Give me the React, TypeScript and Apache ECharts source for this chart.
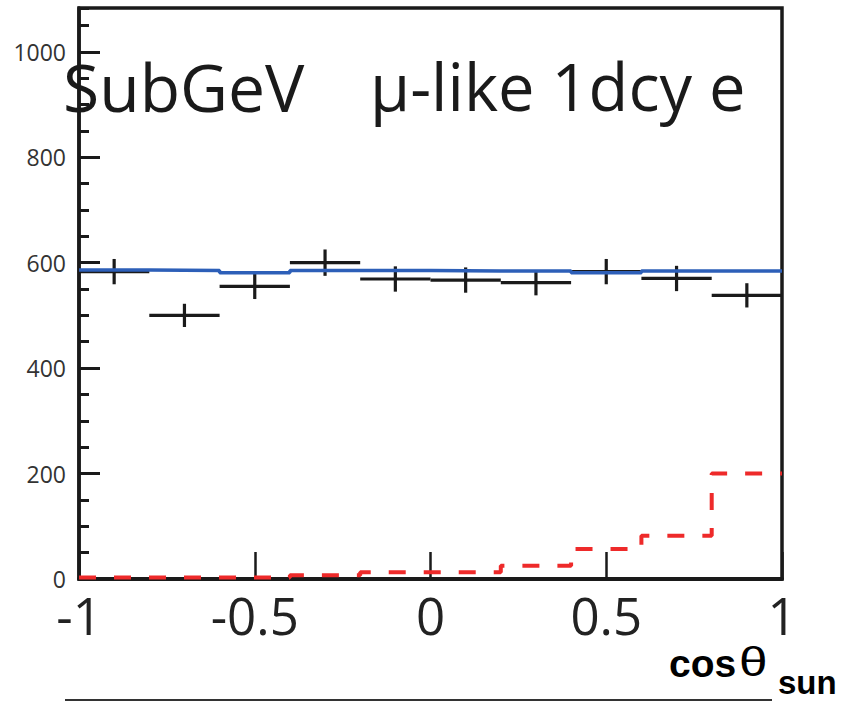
import React, { useEffect, useRef } from "react";
import * as echarts from "echarts";

// ---- data ----
const binCenters = [-0.9, -0.7, -0.5, -0.3, -0.1, 0.1, 0.3, 0.5, 0.7, 0.9];
const binHalfWidth = 0.1;
const dataCounts = [583, 500, 555, 600, 569, 567, 562, 583, 570, 538];
const dataErrors = [24, 22, 24, 25, 24, 24, 24, 24, 24, 23];
const mcExpected = [586, 585, 581, 585, 585, 584, 584, 581, 584, 584];
const solarSignal = [3, 3, 3, 7, 13, 13, 25, 57, 82, 200];
const xTicks = [-1, -0.5, 0, 0.5, 1];
const yMax = 1083;

function stepData(values: number[]) {
  const pts: number[][] = [];
  binCenters.forEach((c, i) => {
    pts.push([c - binHalfWidth, values[i]]);
    pts.push([c + binHalfWidth, values[i]]);
  });
  return pts;
}

export default function App() {
  const ref = useRef<HTMLDivElement>(null);
  useEffect(() => {
    if (!ref.current) return;
    const chart = echarts.init(ref.current, undefined, { renderer: "svg" });
    const ink = "#1a1a1a";
    const option: any = {
      animation: false,
      backgroundColor: "#ffffff",
      grid: {
        left: 79,
        right: 65,
        top: 8,
        bottom: 123,
        show: true,
        borderColor: ink,
        borderWidth: 3.5,
        backgroundColor: "transparent",
      },
      xAxis: {
        type: "value",
        min: xTicks[0],
        max: xTicks[xTicks.length - 1],
        interval: 0.5,
        axisLine: { show: true, onZero: false, lineStyle: { color: ink, width: 4 } },
        axisTick: { show: true, inside: true, length: 27, lineStyle: { color: ink, width: 2.5 } },
        axisLabel: {
          fontSize: 51,
          lineHeight: 40,
          fontFamily: "Open Sans",
          color: "#222",
          margin: 16,
          formatter: (v: number) => String(v),
        },
        splitLine: { show: false },
      },
      yAxis: [
        {
          type: "value",
          min: 0,
          max: yMax,
          interval: 200,
          axisLine: { show: true, onZero: false, lineStyle: { color: ink, width: 3.5 } },
          axisTick: { show: true, inside: true, length: 21, lineStyle: { color: ink, width: 3 } },
          axisLabel: {
            fontSize: 23,
            lineHeight: 20,
            fontFamily: "Open Sans",
            color: "#333",
            margin: 13,
            showMaxLabel: false,
            formatter: (v: number) => String(v),
          },
          splitLine: { show: false },
        },
        {
          type: "value",
          min: 0,
          max: yMax,
          interval: 50,
          position: "left",
          axisLine: { show: false, onZero: false },
          axisTick: { show: true, inside: true, length: 10, lineStyle: { color: ink, width: 3 } },
          axisLabel: { show: false },
          splitLine: { show: false },
        },
      ],
      series: [
        {
          type: "line",
          name: "solar",
          data: stepData(solarSignal),
          symbol: "none",
          lineStyle: { color: "#ee2a2a", width: 4, type: [17, 18] },
          z: 3,
        },
        {
          type: "custom",
          name: "data",
          data: binCenters.map((c, i) => [c, dataCounts[i], dataErrors[i]]),
          renderItem: (params: any, api: any) => {
            const x = api.value(0);
            const y = api.value(1);
            const e = api.value(2);
            const p = api.coord([x, y]);
            const pl = api.coord([x - binHalfWidth, y]);
            const pr = api.coord([x + binHalfWidth, y]);
            const pt = api.coord([x, y + e]);
            const pb = api.coord([x, y - e]);
            const st = { stroke: ink, lineWidth: 3.2 };
            return {
              type: "group",
              children: [
                { type: "line", shape: { x1: pl[0], y1: p[1], x2: pr[0], y2: p[1] }, style: st },
                { type: "line", shape: { x1: p[0], y1: pt[1], x2: p[0], y2: pb[1] }, style: st },
              ],
            };
          },
          z: 4,
        },
        {
          type: "line",
          name: "mc",
          data: stepData(mcExpected),
          symbol: "none",
          lineStyle: { color: "#2d5fb8", width: 3.5 },
          z: 5,
        },
      ],
      graphic: [
        {
          type: "text",
          left: 63,
          top: 53,
          z: 10,
          style: { text: "SubGeV", font: '66px "Open Sans"', fill: ink },
        },
        {
          type: "text",
          left: 370,
          top: 53,
          z: 10,
          style: { text: "μ-like 1dcy e", font: '65px "Open Sans"', fill: ink },
        },
        {
          type: "text",
          left: 669,
          top: 644,
          z: 10,
          style: { text: "cos", font: 'bold 39px "Liberation Sans"', fill: "#000" },
        },
        {
          type: "text",
          left: 739,
          top: 641,
          z: 10,
          scaleX: 1.25,
          style: { text: "θ", font: '41px "Liberation Sans"', fill: "#000" },
        },
        {
          type: "text",
          left: 778,
          top: 666,
          z: 10,
          style: { text: "sun", font: 'bold 33px "Liberation Sans"', lineHeight: 28, fill: "#000" },
        },
        {
          type: "line",
          z: 10,
          shape: { x1: 65, y1: 700, x2: 772, y2: 700 },
          style: { stroke: "#333", lineWidth: 2 },
        },
      ],
    };
    chart.setOption(option);
    return () => chart.dispose();
  }, []);
  return (
    <div
      ref={ref}
      style={{ position: "absolute", left: 0, top: 0, width: 847, height: 702 }}
    />
  );
}
